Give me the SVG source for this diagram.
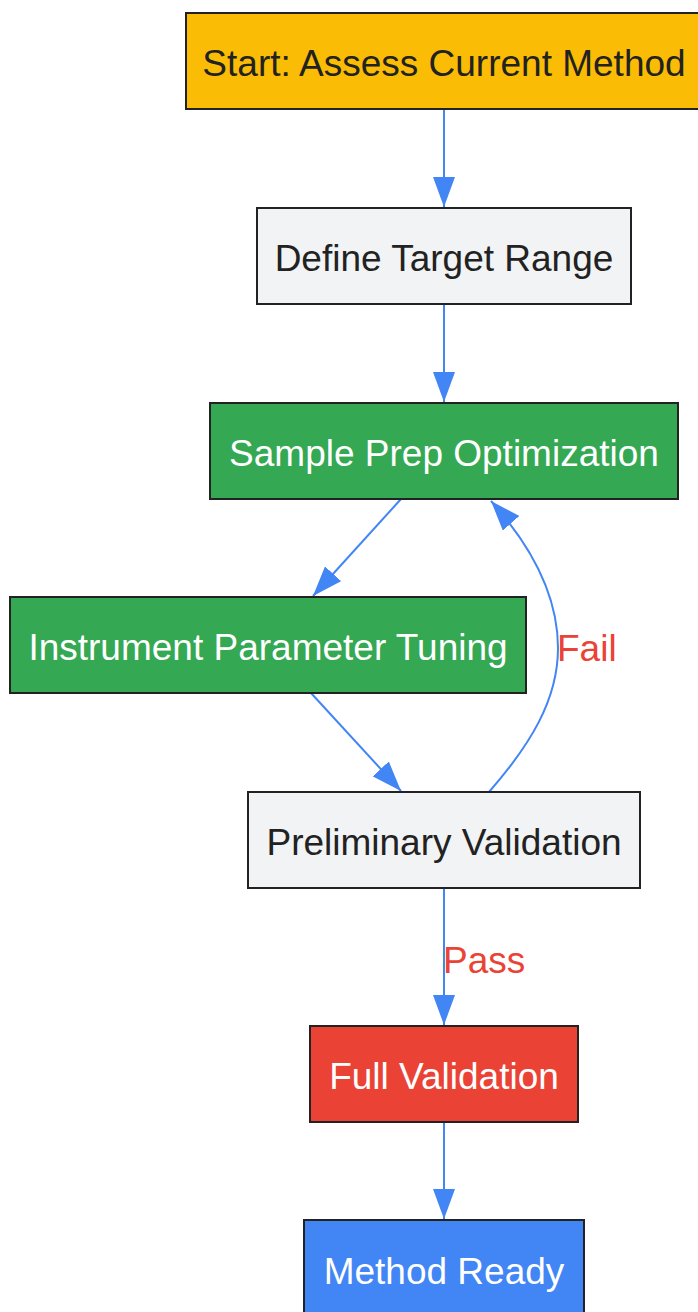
<svg xmlns="http://www.w3.org/2000/svg" width="698" height="1312" viewBox="0 0 698 1312">
<style>
.n rect{stroke:#222;stroke-width:2}
.n text{font-family:"Liberation Sans",Arial,sans-serif;font-size:37px;text-anchor:middle}
.dk{fill:#222}
.lt{fill:#fff}
.e path{fill:none;stroke:#4285f4;stroke-width:2}
.lbl{font-family:"Liberation Sans",Arial,sans-serif;font-size:37px;fill:#ea4335}
</style>
<defs>
<marker id="ah" markerUnits="userSpaceOnUse" markerWidth="30" markerHeight="22" refX="30" refY="11" orient="auto" viewBox="0 0 30 22">
<path d="M0,0 L30,11 L0,22 z" fill="#4285f4"/>
</marker>
</defs>
<rect width="698" height="1312" fill="#fff"/>
<g class="e" id="connectors">
<path d="M444,109 L444,207" marker-end="url(#ah)"/>
<path d="M444,304 L444,402" marker-end="url(#ah)"/>
<path d="M401,499 L313,596" marker-end="url(#ah)"/>
<path d="M311,693 L401,791" marker-end="url(#ah)"/>
<path d="M489,792 C530,745 558,700 558,648 C558,600 535,550 491,501" marker-end="url(#ah)"/>
<path d="M444,888 L444,1025" marker-end="url(#ah)"/>
<path d="M444,1122 L444,1219" marker-end="url(#ah)"/>
<text class="lbl" x="557" y="661">Fail</text>
<text class="lbl" x="443" y="973">Pass</text>
</g>
<g class="n" id="start">
<rect x="186" y="13" width="516" height="96" fill="#fbbc05"/>
<text class="dk" x="444" y="76">Start: Assess Current Method</text>
</g>
<g class="n" id="define">
<rect x="257" y="208" width="374" height="96" fill="#f1f3f4"/>
<text class="dk" x="444" y="271">Define Target Range</text>
</g>
<g class="n" id="sample">
<rect x="210" y="403" width="468" height="96" fill="#34a853"/>
<text class="lt" x="444" y="466">Sample Prep Optimization</text>
</g>
<g class="n" id="instrument">
<rect x="10" y="597" width="516" height="96" fill="#34a853"/>
<text class="lt" x="268" y="660">Instrument Parameter Tuning</text>
</g>
<g class="n" id="prelim">
<rect x="248" y="792" width="392" height="96" fill="#f1f3f4"/>
<text class="dk" x="444" y="855">Preliminary Validation</text>
</g>
<g class="n" id="full">
<rect x="310" y="1026" width="268" height="96" fill="#ea4335"/>
<text class="lt" x="444" y="1089">Full Validation</text>
</g>
<g class="n" id="ready">
<rect x="304" y="1220" width="280" height="96" fill="#4285f4"/>
<text class="lt" x="444" y="1284">Method Ready</text>
</g>
</svg>
